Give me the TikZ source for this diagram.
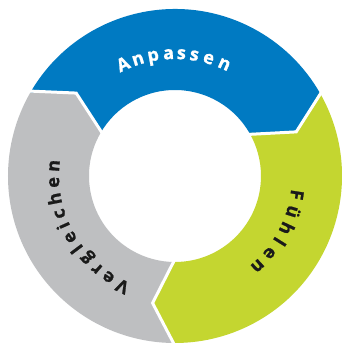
\documentclass[tikz,border=0pt]{standalone}
\usepackage{fontspec}
\setmainfont{Open Sans}
\newfontfamily\lblfont{Open Sans}[BoldFeatures={FakeBold=1.2}]
\definecolor{cblue}{RGB}{0,122,194}
\definecolor{cgreen}{RGB}{196,214,48}
\definecolor{cgray}{RGB}{190,191,193}
\definecolor{ctext}{RGB}{26,26,26}
\begin{document}
\begin{tikzpicture}
\tikzset{
  gapline/.style={draw=white, line width=3pt, line join=miter},
  ltr/.style={font=\lblfont\bfseries\fontsize{18}{18}\selectfont, anchor=base, inner sep=0pt},
}
\fill[white] (-175pt,-167pt) rectangle (167pt,176pt);
\useasboundingbox (-175pt,-167pt) rectangle (167pt,176pt);
% segments
\fill[cblue] (150:167pt) arc[start angle=150, end angle=30, radius=167pt]
  -- (20:129pt) -- (30:86pt) arc[start angle=30, end angle=150, radius=86pt]
  -- (140:129pt) -- cycle;
\fill[cgreen] (30:167pt) arc[start angle=30, end angle=-90, radius=167pt]
  -- (-100:129pt) -- (-90:86pt) arc[start angle=-90, end angle=30, radius=86pt]
  -- (20:129pt) -- cycle;
\fill[cgray] (270:167pt) arc[start angle=270, end angle=150, radius=167pt]
  -- (140:129pt) -- (150:86pt) arc[start angle=150, end angle=270, radius=86pt]
  -- (-100:129pt) -- cycle;
% white gaps
\coordinate (o1) at (30:170pt);  \coordinate (t1) at (20:129pt);  \coordinate (i1) at (30:83pt);
\coordinate (o2) at (-90:170pt); \coordinate (t2) at (-100:129pt); \coordinate (i2) at (-90:83pt);
\coordinate (o3) at (150:170pt); \coordinate (t3) at (140:129pt); \coordinate (i3) at (150:83pt);
\draw[gapline] (o1) -- (t1) -- (i1);
\draw[gapline] (o2) -- (t2) -- (i2);
\draw[gapline] (o3) -- (t3) -- (i3);
% labels
\foreach \a/\l [count=\i] in {114.9/A,107.6/n,100.3/p,93.0/a,87.0/s,80.9/s,74.0/e,66.2/n}
  \node[ltr, text=white, rotate=\a-90] (anp\i) at (\a:117pt) {\l};
\foreach \a/\l [count=\i] in {-8.8/F,-16.9/ü,-25.2/h,-32.1/l,-39.2/e,-47.4/n}
  \node[ltr, text=ctext, rotate=\a-90] (fue\i) at (\a:117pt) {\l};
\foreach \a/\l [count=\i] in {244.5/V,236.7/e,229.8/r,223.0/g,216.7/l,210.4/e,204.1/i,198.2/c,190.8/h,183.0/e,175.2/n}
  \node[ltr, text=ctext, rotate=\a-90] (ver\i) at (\a:116pt) {\l};
\end{tikzpicture}
\end{document}
